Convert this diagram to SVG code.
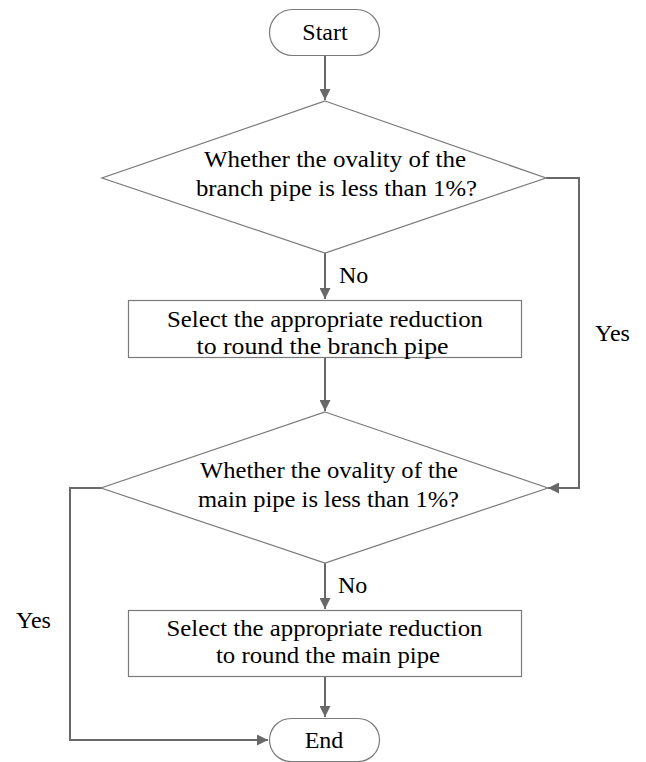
<svg xmlns="http://www.w3.org/2000/svg" width="646" height="762" viewBox="0 0 646 762" font-family="'Liberation Serif', 'Times New Roman', 'DejaVu Serif', serif">
  <defs>
    <style>
      .shape { fill: #ffffff; stroke: #7a7a7a; stroke-width: 1.2; }
      .conn { fill: none; stroke: #686868; stroke-width: 2; }
      text { font-family: 'Liberation Serif', 'Times New Roman', 'DejaVu Serif', serif; font-size: 24px; fill: #000000; }
      .c { text-anchor: middle; }
    </style>
    <marker id="arrow" viewBox="0 0 10 10" refX="10" refY="5" markerWidth="5.5" markerHeight="5.5" orient="auto" markerUnits="strokeWidth">
      <path d="M0,0 L10,5 L0,10 Z" fill="#686868"/>
    </marker>
  </defs>
  <rect width="646" height="762" fill="#ffffff"/>

  <g id="connectors">
    <path class="conn" d="M325,55 L325,100" marker-end="url(#arrow)"/>
    <path class="conn" d="M325,253 L325,299" marker-end="url(#arrow)"/>
    <path class="conn" d="M325,358 L325,411" marker-end="url(#arrow)"/>
    <path class="conn" d="M325,563 L325,609" marker-end="url(#arrow)"/>
    <path class="conn" d="M325,677 L325,717" marker-end="url(#arrow)"/>
    <path class="conn" d="M546,178 L579,178 L579,488 L548,488" marker-end="url(#arrow)"/>
    <path class="conn" d="M102,488 L70,488 L70,740 L268,740" marker-end="url(#arrow)"/>
    <text x="339" y="283">No</text>
    <text x="338" y="593">No</text>
    <text x="595" y="341">Yes</text>
    <text x="16" y="628">Yes</text>
  </g>

  <g id="start">
    <rect class="shape" x="269.5" y="9.5" width="110" height="46" rx="23" ry="23"/>
    <text class="c" x="325" y="40">Start</text>
  </g>

  <g id="decision1">
    <polygon class="shape" points="325,101 546,178 325,253 102,178"/>
    <text class="c" x="335" y="167" textLength="262" lengthAdjust="spacingAndGlyphs">Whether the ovality of the</text>
    <text class="c" x="336.5" y="196" textLength="281" lengthAdjust="spacingAndGlyphs">branch pipe is less than 1%?</text>
  </g>

  <g id="process1">
    <rect class="shape" x="128.5" y="300.5" width="393" height="57"/>
    <text class="c" x="325" y="327" textLength="316" lengthAdjust="spacingAndGlyphs">Select the appropriate reduction</text>
    <text class="c" x="322.5" y="354" textLength="252" lengthAdjust="spacingAndGlyphs">to round the branch pipe</text>
  </g>

  <g id="decision2">
    <polygon class="shape" points="325,412 548,488 325,563 101,488"/>
    <text class="c" x="329" y="478" textLength="258" lengthAdjust="spacingAndGlyphs">Whether the ovality of the</text>
    <text class="c" x="328.5" y="507" textLength="261" lengthAdjust="spacingAndGlyphs">main pipe is less than 1%?</text>
  </g>

  <g id="process2">
    <rect class="shape" x="128.5" y="610.5" width="393" height="66"/>
    <text class="c" x="324.5" y="636" textLength="316" lengthAdjust="spacingAndGlyphs">Select the appropriate reduction</text>
    <text class="c" x="328" y="663" textLength="224" lengthAdjust="spacingAndGlyphs">to round the main pipe</text>
  </g>

  <g id="end">
    <rect class="shape" x="269.5" y="718.5" width="110" height="43" rx="21.5" ry="21.5"/>
    <text class="c" x="324" y="748">End</text>
  </g>
</svg>
